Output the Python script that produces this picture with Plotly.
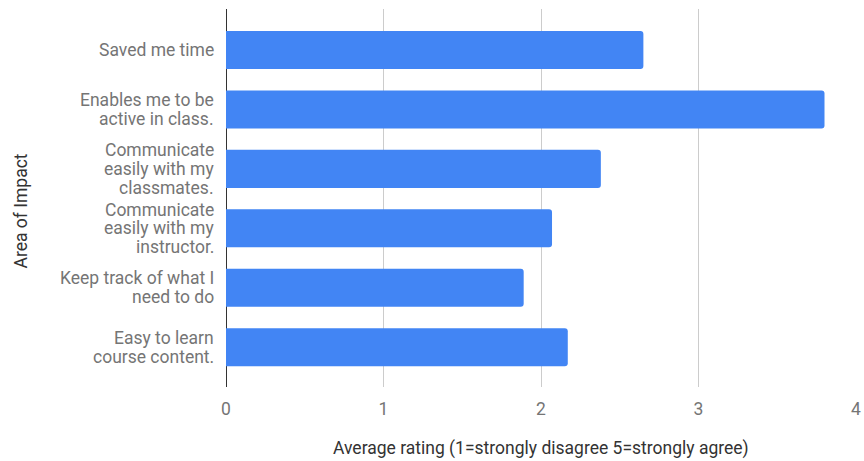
import plotly.graph_objects as go

# Survey results: average agreement rating per area of impact
areas = [
    "Saved me time",
    "Enables me to be active in class.",
    "Communicate easily with my classmates.",
    "Communicate easily with my instructor.",
    "Keep track of what I need to do",
    "Easy to learn course content.",
]
# How each category label wraps onto lines beside its bar
area_lines = [
    ["Saved me time"],
    ["Enables me to be", "active in class."],
    ["Communicate", "easily with my", "classmates."],
    ["Communicate", "easily with my", "instructor."],
    ["Keep track of what I", "need to do"],
    ["Easy to learn", "course content."],
]
ratings = [2.65, 3.80, 2.38, 2.07, 1.89, 2.17]
x_ticks = [0, 1, 2, 3, 4]

FONT = "Roboto, Arial, sans-serif"
FSIZE = 17.5
LABEL_GRAY = "#757575"
TITLE_GRAY = "#333333"
LINE_STEP = 18.7  # px between wrapped label lines

W, H = 864, 461
M = dict(l=226, r=8, t=9, b=74)
plot_h = H - M["t"] - M["b"]
bottom_px = H - M["b"]

fig = go.Figure(
    go.Bar(
        x=ratings,
        y=areas,
        orientation="h",
        marker=dict(color="#4285F4", line=dict(width=0)),
        width=0.64,
        hoverinfo="x+y",
    )
)

annotations = []
# Category labels, drawn line by line so the wrapped text stays compact
for cat, lines in zip(areas, area_lines):
    n = len(lines)
    for i, line in enumerate(lines):
        annotations.append(
            dict(
                text=line,
                xref="paper",
                yref="y",
                x=0,
                y=cat,
                xanchor="right",
                yanchor="middle",
                xshift=-10,
                yshift=((n - 1) / 2 - i) * LINE_STEP,
                showarrow=False,
                font=dict(family=FONT, size=FSIZE, color=LABEL_GRAY),
            )
        )

# Axis titles
annotations.append(
    dict(
        text="Average rating (1=strongly disagree 5=strongly agree)",
        xref="paper",
        yref="paper",
        x=0.5,
        y=-(448 - bottom_px) / plot_h,
        xanchor="center",
        yanchor="middle",
        showarrow=False,
        font=dict(family=FONT, size=FSIZE, color=TITLE_GRAY),
    )
)
annotations.append(
    dict(
        text="Area of Impact",
        xref="paper",
        yref="paper",
        x=0,
        xshift=-(M["l"] - 20),
        y=(bottom_px - 211.5) / plot_h,
        xanchor="center",
        yanchor="middle",
        textangle=-90,
        showarrow=False,
        font=dict(family=FONT, size=FSIZE, color=TITLE_GRAY),
    )
)

fig.update_layout(
    width=W,
    height=H,
    autosize=False,
    margin=dict(M, autoexpand=False),
    paper_bgcolor="white",
    plot_bgcolor="white",
    barcornerradius=3,
    showlegend=False,
    font=dict(family=FONT, size=FSIZE, color=LABEL_GRAY),
    annotations=annotations,
    xaxis=dict(
        range=[0, 4],
        tickvals=x_ticks,
        ticktext=[str(v) for v in x_ticks],
        showgrid=True,
        gridcolor="#cccccc",
        gridwidth=1,
        zeroline=True,
        zerolinecolor="#333333",
        zerolinewidth=1,
        showline=False,
        ticks="",
        ticklabelstandoff=9,
        tickfont=dict(family=FONT, size=FSIZE, color=LABEL_GRAY),
        automargin=False,
        fixedrange=True,
    ),
    yaxis=dict(
        autorange=False,
        range=[5.67, -0.69],
        showgrid=False,
        zeroline=False,
        showline=False,
        ticks="",
        showticklabels=False,
        automargin=False,
        fixedrange=True,
    ),
)

fig.write_html("out.html")
